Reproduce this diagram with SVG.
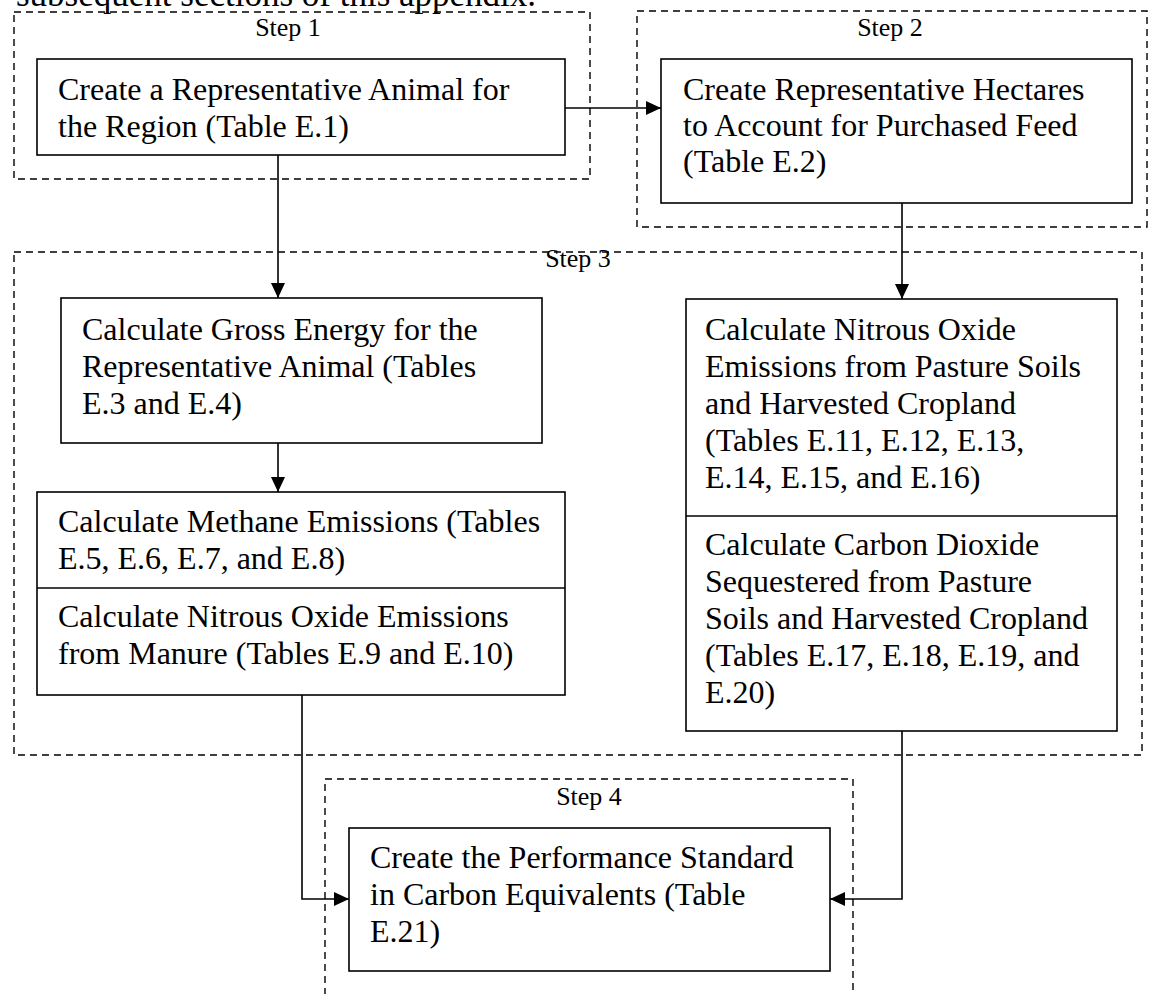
<svg xmlns="http://www.w3.org/2000/svg" width="1149" height="994" viewBox="0 0 1149 994">
  <style>
    .txt { font-family: "Liberation Serif", "Times New Roman", serif; font-size: 32px; fill: #000; }
    .body { font-family: "Liberation Serif", "Times New Roman", serif; font-size: 35px; fill: #000; }
    .step { font-family: "Liberation Serif", "Times New Roman", serif; font-size: 26px; fill: #000; text-anchor: middle; }
    .frame { fill: none; stroke: #000; stroke-width: 1.4; stroke-dasharray: 7 5; }
    .box { fill: #fff; stroke: #000; stroke-width: 1.6; }
    .div { stroke: #000; stroke-width: 1.6; }
    .wire { fill: none; stroke: #000; stroke-width: 1.6; marker-end: url(#head); }
  </style>
  <defs>
    <marker id="head" markerUnits="userSpaceOnUse" markerWidth="16" markerHeight="14" refX="15" refY="7" orient="auto">
      <path d="M0,0 L15,7 L0,14 Z" fill="#000"/>
    </marker>
  </defs>
  <rect width="1149" height="994" fill="#fff"/>

  <!-- trailing line of the preceding paragraph -->
  <text class="body" x="16" y="6">subsequent sections of this appendix.</text>

  <!-- dashed step frames -->
  <g id="frames">
    <rect class="frame" x="14" y="12" width="576" height="167"/>
    <text class="step" x="288" y="36">Step 1</text>
    <rect class="frame" x="637" y="11" width="510" height="216"/>
    <text class="step" x="890" y="36">Step 2</text>
    <rect class="frame" x="14" y="252" width="1128" height="503"/>
    <text class="step" x="578" y="267">Step 3</text>
    <rect class="frame" x="325" y="779" width="528" height="240"/>
    <text class="step" x="589" y="805">Step 4</text>
  </g>

  <!-- connectors -->
  <g id="connectors">
    <path class="wire" d="M565,108 H661"/>
    <path class="wire" d="M278,155 V298"/>
    <path class="wire" d="M902,203 V299"/>
    <path class="wire" d="M278,443 V492"/>
    <path class="wire" d="M302,695 V899 H349"/>
    <path class="wire" d="M902,731 V899 H830"/>
  </g>

  <g id="node-animal">
    <rect class="box" x="37" y="59" width="528" height="96"/>
    <text class="txt" x="58" y="100">Create a Representative Animal for</text>
    <text class="txt" x="58" y="137">the Region (Table E.1)</text>
  </g>

  <g id="node-hectares">
    <rect class="box" x="661" y="59" width="471" height="144"/>
    <text class="txt" x="683" y="100">Create Representative Hectares</text>
    <text class="txt" x="683" y="136">to Account for Purchased Feed</text>
    <text class="txt" x="683" y="172">(Table E.2)</text>
  </g>

  <g id="node-gross-energy">
    <rect class="box" x="61" y="298" width="481" height="145"/>
    <text class="txt" x="82" y="340">Calculate Gross Energy for the</text>
    <text class="txt" x="82" y="377">Representative Animal (Tables</text>
    <text class="txt" x="82" y="414">E.3 and E.4)</text>
  </g>

  <g id="node-methane-manure">
    <rect class="box" x="37" y="492" width="528" height="203"/>
    <line class="div" x1="37" y1="588" x2="565" y2="588"/>
    <text class="txt" x="58" y="532">Calculate Methane Emissions (Tables</text>
    <text class="txt" x="58" y="569">E.5, E.6, E.7, and E.8)</text>
    <text class="txt" x="58" y="627">Calculate Nitrous Oxide Emissions</text>
    <text class="txt" x="58" y="664">from Manure (Tables E.9 and E.10)</text>
  </g>

  <g id="node-soils">
    <rect class="box" x="686" y="299" width="431" height="432"/>
    <line class="div" x1="686" y1="516" x2="1117" y2="516"/>
    <text class="txt" x="705" y="340">Calculate Nitrous Oxide</text>
    <text class="txt" x="705" y="377">Emissions from Pasture Soils</text>
    <text class="txt" x="705" y="414">and Harvested Cropland</text>
    <text class="txt" x="705" y="451">(Tables E.11, E.12, E.13,</text>
    <text class="txt" x="705" y="488">E.14, E.15, and E.16)</text>
    <text class="txt" x="705" y="555">Calculate Carbon Dioxide</text>
    <text class="txt" x="705" y="592">Sequestered from Pasture</text>
    <text class="txt" x="705" y="629">Soils and Harvested Cropland</text>
    <text class="txt" x="705" y="666">(Tables E.17, E.18, E.19, and</text>
    <text class="txt" x="705" y="703">E.20)</text>
  </g>

  <g id="node-standard">
    <rect class="box" x="349" y="828" width="481" height="143"/>
    <text class="txt" x="370" y="868">Create the Performance Standard</text>
    <text class="txt" x="370" y="905">in Carbon Equivalents (Table</text>
    <text class="txt" x="370" y="942">E.21)</text>
  </g>
</svg>
